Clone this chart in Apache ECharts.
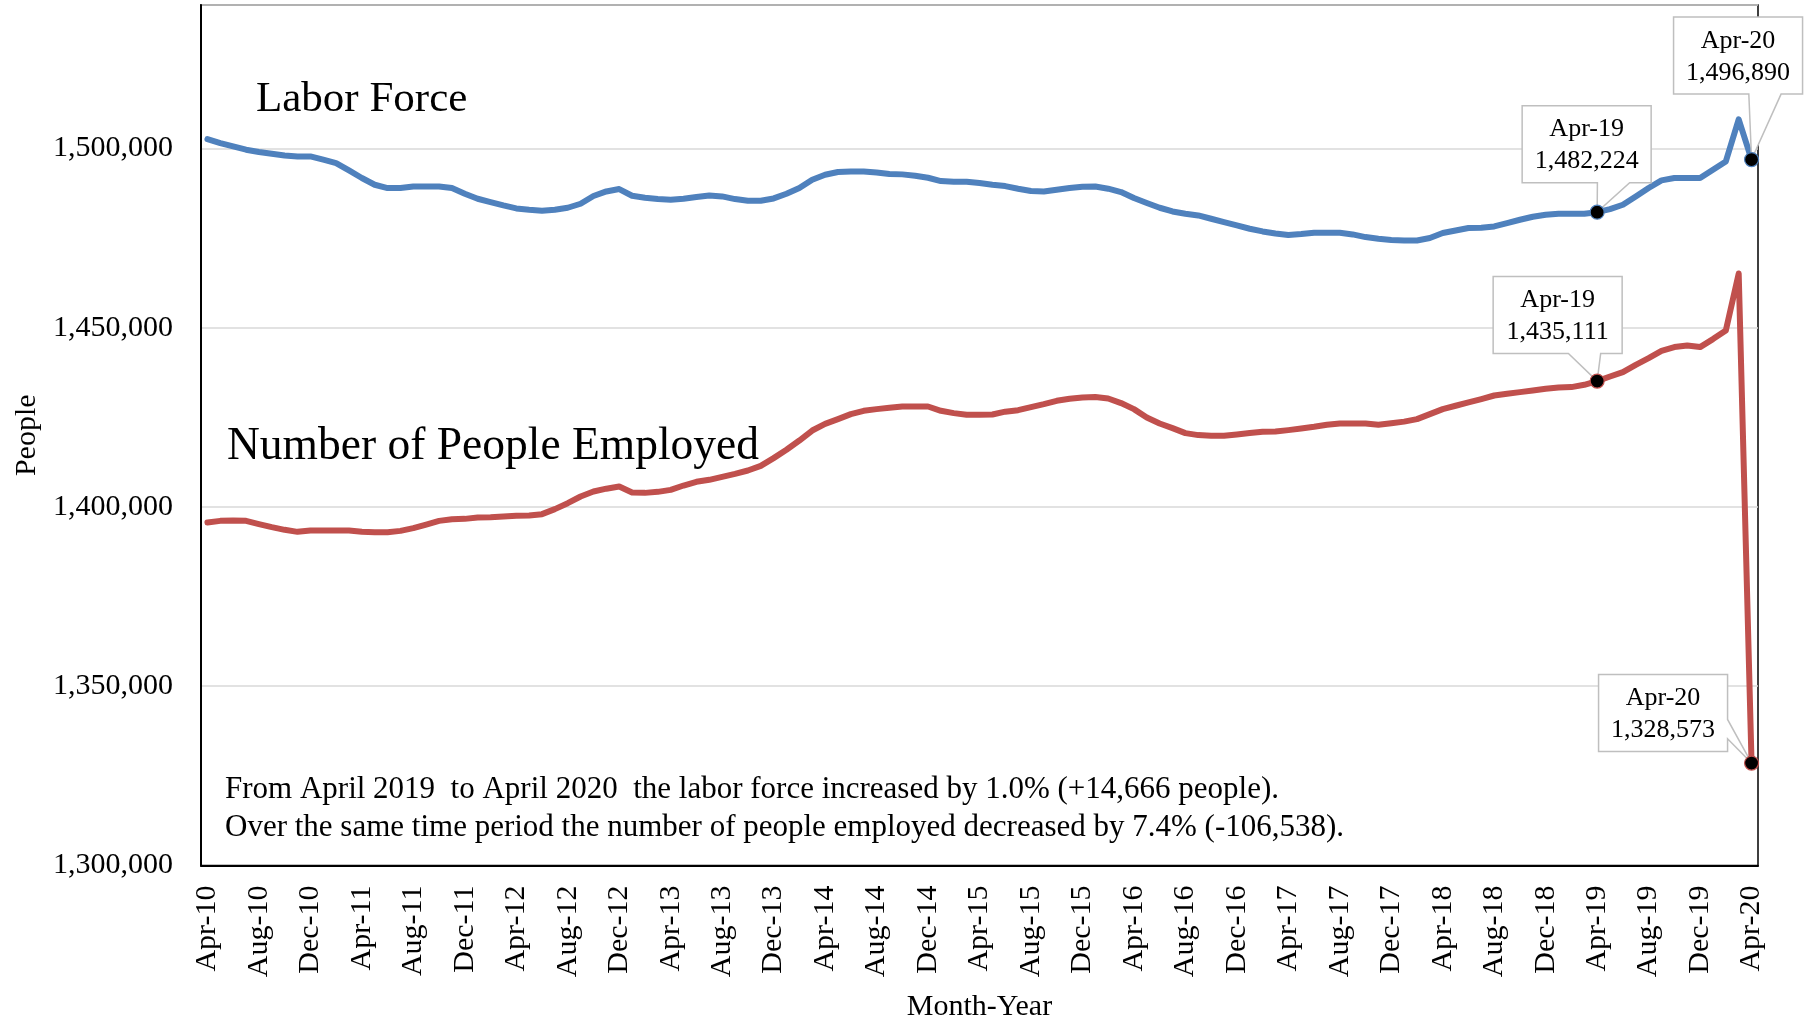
<!DOCTYPE html>
<html>
<head>
<meta charset="utf-8">
<script src="https://cdn.jsdelivr.net/npm/echarts@6/dist/echarts.min.js"></script>
<style>
  html, body { margin: 0; padding: 0; background: #fff; }
  #c1 { width: 1806px; height: 1017px; }
</style>
</head>
<body>
<div id="c1"></div>
<script>
// month categories, Apr-10 .. Apr-20
var months = [
  "Apr-10","May-10","Jun-10","Jul-10","Aug-10","Sep-10","Oct-10","Nov-10","Dec-10",
  "Jan-11","Feb-11","Mar-11","Apr-11","May-11","Jun-11","Jul-11","Aug-11","Sep-11","Oct-11","Nov-11","Dec-11",
  "Jan-12","Feb-12","Mar-12","Apr-12","May-12","Jun-12","Jul-12","Aug-12","Sep-12","Oct-12","Nov-12","Dec-12",
  "Jan-13","Feb-13","Mar-13","Apr-13","May-13","Jun-13","Jul-13","Aug-13","Sep-13","Oct-13","Nov-13","Dec-13",
  "Jan-14","Feb-14","Mar-14","Apr-14","May-14","Jun-14","Jul-14","Aug-14","Sep-14","Oct-14","Nov-14","Dec-14",
  "Jan-15","Feb-15","Mar-15","Apr-15","May-15","Jun-15","Jul-15","Aug-15","Sep-15","Oct-15","Nov-15","Dec-15",
  "Jan-16","Feb-16","Mar-16","Apr-16","May-16","Jun-16","Jul-16","Aug-16","Sep-16","Oct-16","Nov-16","Dec-16",
  "Jan-17","Feb-17","Mar-17","Apr-17","May-17","Jun-17","Jul-17","Aug-17","Sep-17","Oct-17","Nov-17","Dec-17",
  "Jan-18","Feb-18","Mar-18","Apr-18","May-18","Jun-18","Jul-18","Aug-18","Sep-18","Oct-18","Nov-18","Dec-18",
  "Jan-19","Feb-19","Mar-19","Apr-19","May-19","Jun-19","Jul-19","Aug-19","Sep-19","Oct-19","Nov-19","Dec-19",
  "Jan-20","Feb-20","Mar-20","Apr-20"
];

var laborForce = [
  1502620, 1501500, 1500560, 1499640, 1498990, 1498520, 1498050, 1497770, 1497770,
  1496850, 1495920, 1493860, 1491740, 1489870, 1488950, 1488950, 1489400, 1489400, 1489400, 1488950, 1487360,
  1485960, 1485030, 1484100, 1483260, 1482900, 1482620, 1482900, 1483450, 1484570, 1486720, 1488000, 1488670,
  1486800, 1486240, 1485870, 1485690, 1485970, 1486430, 1486890, 1486610, 1485870, 1485410, 1485410, 1486050,
  1487360, 1488950, 1491270, 1492660, 1493410, 1493580, 1493580, 1493300, 1492850, 1492760, 1492380, 1491820,
  1490890, 1490700, 1490700, 1490330, 1489870, 1489500, 1488760, 1488110, 1488000, 1488480, 1488950, 1489310,
  1489400, 1488760, 1487830, 1486160, 1484770, 1483450, 1482420, 1481780, 1481310, 1480390, 1479460, 1478520,
  1477600, 1476850, 1476290, 1475840, 1476120, 1476480, 1476480, 1476480, 1476010, 1475270, 1474810, 1474440,
  1474300, 1474330, 1475000, 1476400, 1477120, 1477790, 1477880, 1478240, 1479170, 1480110, 1480940, 1481500,
  1481780, 1481780, 1481780, 1482224, 1483080, 1484290, 1486610, 1488950, 1491080, 1491740, 1491740, 1491740,
  1494060, 1496380, 1508100, 1496890
];

var employed = [
  1395650, 1396120, 1396210, 1396120, 1395210, 1394370, 1393620, 1393060, 1393420,
  1393420, 1393420, 1393420, 1393060, 1392970, 1392970, 1393330, 1394090, 1395100, 1396120, 1396590, 1396680,
  1397050, 1397150, 1397330, 1397520, 1397610, 1397990, 1399390, 1401060, 1402910, 1404300, 1405100, 1405700,
  1404020, 1403930, 1404210, 1404770, 1405980, 1407010, 1407570, 1408400, 1409240, 1410170, 1411470, 1413620,
  1415940, 1418530, 1421320, 1423190, 1424500, 1425900, 1426820, 1427290, 1427660, 1428020, 1428020, 1428020,
  1426820, 1426170, 1425700, 1425700, 1425800, 1426580, 1427000, 1427850, 1428680, 1429610, 1430170, 1430540,
  1430640, 1430250, 1428970, 1427290, 1424950, 1423280, 1421990, 1420600, 1420040, 1419840, 1419840, 1420210,
  1420600, 1420960, 1421060, 1421430, 1421880, 1422350, 1422910, 1423280, 1423280, 1423280, 1422910, 1423370,
  1423800, 1424490, 1425890, 1427290, 1428220, 1429150, 1430080, 1431090, 1431560, 1432030, 1432480, 1432960,
  1433320, 1433430, 1434070, 1435111, 1436390, 1437610, 1439650, 1441520, 1443560, 1444590, 1445040, 1444590,
  1446820, 1449220, 1465100, 1328573
];

var yTicks = { min: 1300000, max: 1540000, step: 50000 };

// which points get a callout
var calloutSeries = ["labor", "labor", "employed", "employed"];
var calloutIndex = [108, 120, 108, 120];

var noteLines = [
  "From April 2019  to April 2020  the labor force increased by 1.0% (+14,666 people).",
  "Over the same time period the number of people employed decreased by 7.4% (-106,538)."
];

var FONT = "Liberation Serif";
var BLUE = "#4F81BD";
var RED = "#C0504D";

// box-centre offset from the point, px
var calloutOffset = [[-10.5, -68], [-13.5, -104], [-39.5, -66], [-88.5, -50]];
var BOX_W = 129, BOX_H = 77;

function fmt(v) {
  return Math.round(v).toLocaleString("en-US");
}

// excel style wedgeRectCallout outline
function wedgeBox(l, t, w, h, tx, ty) {
  var r = l + w, b = t + h;
  var dx = tx - (l + w / 2), dy = ty - (t + h / 2);
  var dz = Math.abs(dy) - Math.abs(dx * h / w);
  var x1 = l + w * (dx > 0 ? 7 : 2) / 12, x2 = l + w * (dx > 0 ? 10 : 5) / 12;
  var y1 = t + h * (dy > 0 ? 7 : 2) / 12, y2 = t + h * (dy > 0 ? 10 : 5) / 12;
  var p = [[l, t]];
  if (dz > 0 && dy < 0) p.push([x1, t], [tx, ty], [x2, t]);
  p.push([r, t]);
  if (dz <= 0 && dx > 0) p.push([r, y1], [tx, ty], [r, y2]);
  p.push([r, b]);
  if (dz > 0 && dy > 0) p.push([x2, b], [tx, ty], [x1, b]);
  p.push([l, b]);
  if (dz <= 0 && dx < 0) p.push([l, y2], [tx, ty], [l, y1]);
  return p;
}

var calloutData = [];
for (var k = 0; k < calloutIndex.length; k++) {
  var src = calloutSeries[k] === "labor" ? laborForce : employed;
  calloutData.push([calloutIndex[k], src[calloutIndex[k]], k]);
}

var chartDom = document.getElementById("c1");
var myChart = echarts.init(chartDom);
var option;

option = {
  animation: false,
  backgroundColor: "#fff",
  textStyle: { fontFamily: FONT },
  grid: {
    left: 201,
    right: 48,
    top: 5,
    bottom: 151.5,
    show: true,
    borderColor: "#000",
    borderWidth: 1.5,
    outerBoundsMode: "none",
  },
  xAxis: {
    type: "category",
    data: months,
    boundaryGap: true,
    name: "Month-Year",
    nameLocation: "middle",
    nameGap: 127,
    nameTextStyle: { fontFamily: FONT, fontSize: 30, color: "#000", verticalAlign: "top" },
    axisLine: { lineStyle: { color: "#000", width: 2 } },
    axisTick: { interval: 3, length: 8, lineStyle: { color: "#000", width: 1.5 } },
    axisLabel: {
      interval: 3,
      rotate: 90,
      margin: 20,
      fontFamily: FONT,
      fontSize: 30,
      color: "#000",
    },
    splitLine: { show: false },
  },
  yAxis: {
    type: "value",
    min: yTicks.min,
    max: yTicks.max,
    interval: yTicks.step,
    name: "People",
    nameLocation: "middle",
    nameGap: 158,
    nameTextStyle: { fontFamily: FONT, fontSize: 30, color: "#000" },
    axisLine: { show: true, lineStyle: { color: "#000", width: 2 } },
    axisTick: { show: false },
    axisLabel: {
      margin: 28,
      fontFamily: FONT,
      fontSize: 30,
      color: "#000",
      showMaxLabel: false,
      formatter: function (v) {
        return fmt(v);
      },
    },
    splitLine: { lineStyle: { color: "#D9D9D9", width: 1.5 } },
  },
  series: [
    {
      name: "Labor Force",
      type: "line",
      data: laborForce,
      symbol: "none",
      z: 2,
      lineStyle: { color: BLUE, width: 6, cap: "round", join: "round" },
      itemStyle: { color: BLUE },
    },
    {
      name: "Number of People Employed",
      type: "line",
      data: employed,
      symbol: "none",
      z: 2,
      lineStyle: { color: RED, width: 6, cap: "round", join: "round" },
      itemStyle: { color: RED },
    },
    {
      name: "callouts",
      type: "custom",
      clip: false,
      z: 5,
      data: calloutData,
      renderItem: function (params, api) {
        var idx = api.value(0);
        var val = api.value(1);
        var k = api.value(2);
        var pt = api.coord([idx, val]);
        var off = calloutOffset[k];
        var l = pt[0] + off[0] - BOX_W / 2;
        var t = pt[1] + off[1] - BOX_H / 2;
        var col = calloutSeries[k] === "labor" ? BLUE : RED;
        return {
          type: "group",
          children: [
            {
              type: "polygon",
              shape: { points: wedgeBox(l, t, BOX_W, BOX_H, pt[0], pt[1]) },
              style: { fill: "#fff", stroke: "#BFBFBF", lineWidth: 1.5 },
            },
            {
              type: "text",
              style: {
                text: months[idx] + "\n" + fmt(val),
                x: l + BOX_W / 2,
                y: t + BOX_H / 2 + 1.5,
                align: "center",
                verticalAlign: "middle",
                fontFamily: FONT,
                fontSize: 26,
                lineHeight: 32,
                fill: "#000",
              },
            },
            {
              type: "circle",
              shape: { cx: pt[0], cy: pt[1], r: 7 },
              style: { fill: "#000", stroke: col, lineWidth: 1.2 },
            },
          ],
        };
      },
    },
  ],
  graphic: [
    {
      type: "text",
      x: 256,
      y: 100,
      style: { text: "Labor Force", fontFamily: FONT, fontSize: 43, fill: "#000", verticalAlign: "middle" },
    },
    {
      type: "text",
      x: 227,
      y: 447,
      style: { text: "Number of People Employed", fontFamily: FONT, fontSize: 45.5, fill: "#000", verticalAlign: "middle" },
    },
    {
      type: "text",
      x: 225,
      y: 790,
      style: { text: noteLines[0], fontFamily: FONT, fontSize: 31, fill: "#000", verticalAlign: "middle" },
    },
    {
      type: "text",
      x: 225,
      y: 828,
      style: { text: noteLines[1], fontFamily: FONT, fontSize: 31, fill: "#000", verticalAlign: "middle" },
    },
  ],
};

myChart.setOption(option);
window.addEventListener("resize", function () {
  myChart.resize();
});
</script>
</body>
</html>
